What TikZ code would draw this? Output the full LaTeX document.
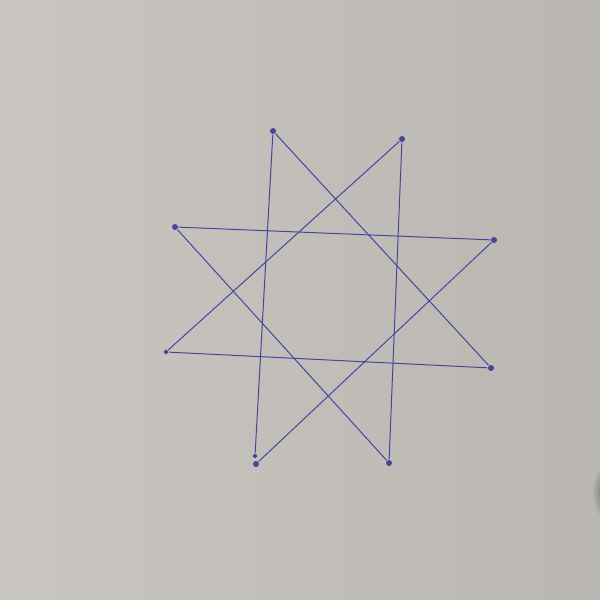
\documentclass[tikz,border=0pt]{standalone}
\usepackage{tikz}
\usetikzlibrary{positioning}
\definecolor{inkblue}{RGB}{70,68,155}
\definecolor{paperL}{RGB}{201,198,194}
\definecolor{paperR}{RGB}{186,182,177}
\definecolor{tipgray}{RGB}{110,104,98}

\begin{document}
\begin{tikzpicture}[
  x=0.1mm,y=-0.1mm,
  ln/.style={draw=inkblue,line width=0.28pt},
  dt/.style={circle,fill=inkblue,inner sep=0pt,minimum size=1.7pt},
  dts/.style={dt,minimum size=1.2pt}
]
% paper
\shade[left color=paperL,right color=paperR] (0,0) rectangle (600,600);
\begin{scope}
  \clip (0,0) rectangle (600,600);
  \shade[inner color=tipgray,outer color=paperR] (606,492) ellipse (14 and 28);
\end{scope}

% star points
\node[dt]  (a)  at (273,131) {};
\node[dt]  (b)  at (402,139) {};
\node[dt]  (c)  at (494,240) {};
\node[dt]  (d)  at (491,368) {};
\node[dt]  (e)  at (389,463) {};
\node[dts] (f1) at (255,456) {};
\node[dt]  (f2) at (256,464) {};
\node[dts] (g)  at (166,352) {};
\node[dt]  (h)  at (175,227) {};

% {8/3} strokes
\draw[ln] (a) -- (f1);
\draw[ln] (a) -- (d);
\draw[ln] (d) -- (g);
\draw[ln] (g) -- (b);
\draw[ln] (b) -- (e);
\draw[ln] (e) -- (h);
\draw[ln] (h) -- (c);
\draw[ln] (c) -- (f2);
\end{tikzpicture}
\end{document}
